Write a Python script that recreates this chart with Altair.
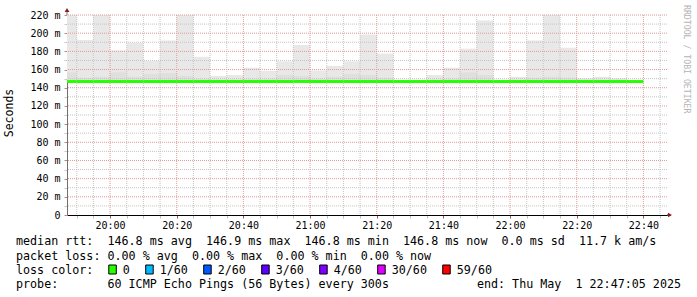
import altair as alt
import pandas as pd

# ---------------- data ----------------
start_time = "19:47:05"
end_time = "22:47:05"

bin_start = ["19:45", "19:50", "19:55", "20:00", "20:05", "20:10", "20:15", "20:20", "20:25",
             "20:30", "20:35", "20:40", "20:45", "20:50", "20:55", "21:00", "21:05", "21:10",
             "21:15", "21:20", "21:25", "21:30", "21:35", "21:40", "21:45", "21:50", "21:55",
             "22:00", "22:05", "22:10", "22:15", "22:20", "22:25", "22:30", "22:35"]
# smoke (ms): top of the ping spread, top of the denser lower band, bottom of the spread
smoke_max = [222, 192.5, 222, 181, 189.5, 169.5, 192, 222, 174, 153,
             154, 162, 158.5, 169, 187, 159, 164, 169, 198.5, 177.5,
             None, None, 154, 162, 183, 214, None, 152, 192, 222,
             184, 150.5, 152, 150.5, None]
smoke_dense = [157, 151, 152, 157, 152, 155, 156, 153, 150, 149,
               149, 150, 150, 154, 153, 150, 152, 155, 154, 151,
               None, None, 149, 150, 157, 154, None, 149, 151, 152,
               151, 149, 149, 149, None]
smoke_min = [146.3, 146.3, 146.3, 146.3, 146.3, 146.3, 146.3, 146.3, 146.3, 146.3,
             146.3, 146.3, 146.3, 146.3, 146.3, 146.3, 146.3, 146.3, 146.3, 146.3,
             146.3, 146.3, 146.3, 146.3, 146.3, 146.3, 146.3, 146.3, 146.3, 146.3,
             146.3, 146.3, 146.3, 146.3, 146.3]
median_rtt = [146.8, 146.8, 146.8, 146.8, 146.8, 146.8, 146.8, 146.8, 146.8, 146.8,
              146.8, 146.8, 146.8, 146.8, 146.9, 146.8, 146.8, 146.8, 146.8, 146.8,
              146.8, 146.8, 146.8, 146.8, 146.8, 146.8, 146.8, 146.8, 146.8, 146.8,
              146.8, 146.8, 146.8, 146.8, 146.8]

loss_labels = ["0", "1/60", "2/60", "3/60", "4/60", "30/60", "59/60"]
loss_colors = ["#26ff00", "#00b8ff", "#0059ff", "#5e00ff", "#7e00ff", "#dd00ff", "#ff0000"]

line_rtt = "median rtt:  146.8 ms avg  146.9 ms max  146.8 ms min  146.8 ms now  0.0 ms sd  11.7 k am/s"
line_loss = "packet loss: 0.00 % avg  0.00 % max  0.00 % min  0.00 % now"
line_color = "loss color:"
line_probe = "probe:       60 ICMP Echo Pings (56 Bytes) every 300s"
line_end = "end: Thu May  1 22:47:05 2025"
y_title = "Seconds"
watermark = "RRDTOOL / TOBI OETIKER"

# ---------------- helpers ----------------
def to_min(s):
    parts = [int(p) for p in s.split(":")]
    m = parts[0] * 60 + parts[1]
    if len(parts) > 2:
        m += parts[2] / 60.0
    return m

t0 = to_min(start_time)
t1 = to_min(end_time)
STEP = 5

rows = []
for s, hi, dn, lo, md in zip(bin_start, smoke_max, smoke_dense, smoke_min, median_rtt):
    a = max(to_min(s), t0)
    b = to_min(s) + STEP
    rows.append(dict(x0=a, x1=b, hi=hi, dense=dn, lo=lo, med=md))
df = pd.DataFrame(rows)
df_smoke = df.dropna(subset=["hi"])

x_ticks = list(range(1190, 1366, 5))
y_ticks = list(range(0, 221, 10))
df_gx = pd.DataFrame({"v": x_ticks})
df_gy = pd.DataFrame({"v": y_ticks})
df_gx["major"] = df_gx["v"] % 20 == 0
df_gy["major"] = df_gy["v"] % 20 == 0

MONO = "DejaVu Sans Mono"
NB = "\u00a0"

x_axis = alt.Axis(
    values=x_ticks, grid=False, title=None,
    labelExpr="datum.value % 20 == 0 ? (floor(datum.value/60) + ':' + (datum.value % 60 < 10 ? '0' : '') + (datum.value % 60)) : ''",
    labelFont=MONO, labelFontSize=10, labelColor="black", labelPadding=2,
    labelFlush=False, labelOverlap=False,
    domainColor="black", domainWidth=1,
    tickSize=3, tickColor={"condition": {"test": "datum.value % 20 == 0", "value": "#b05050"}, "value": "#c0c0c0"},
)
y_axis = alt.Axis(
    values=y_ticks, grid=False, title=None,
    labelExpr="datum.value % 20 == 0 ? (datum.value == 0 ? '0" + NB + NB + "' : datum.value + '" + NB + "m') : ''",
    labelFont=MONO, labelFontSize=10, labelColor="black", labelPadding=4,
    labelOverlap=False, labelFlush=False,
    domainColor="#707070", domainWidth=1,
    tickSize=3, tickColor={"condition": {"test": "datum.value % 20 == 0", "value": "#d08080"}, "value": "#c8c8c8"},
)

def X(field):
    return alt.X(field, type="quantitative", scale=alt.Scale(domain=[t0, t1], nice=False, zero=False), axis=x_axis)

def Y(field):
    return alt.Y(field, type="quantitative", scale=alt.Scale(domain=[0, 220], nice=False, zero=True), axis=y_axis)

smoke_light = alt.Chart(df_smoke).mark_rect(color="#e8e8e8", clip=True).encode(
    x=X("x0"), x2="x1", y=Y("lo"), y2="hi")
smoke_dark = alt.Chart(df_smoke).mark_rect(color="#dfdfdf", clip=True).encode(
    x=X("x0"), x2="x1", y=Y("lo"), y2="dense")

grid_x_minor = alt.Chart(df_gx[~df_gx["major"]]).mark_rule(color="#c4c4c4", strokeDash=[1, 1], strokeWidth=1).encode(x=X("v"))
grid_x_major = alt.Chart(df_gx[df_gx["major"]]).mark_rule(color="#e09a9a", strokeDash=[1, 1], strokeWidth=1).encode(x=X("v"))
grid_y_minor = alt.Chart(df_gy[~df_gy["major"]]).mark_rule(color="#c4c4c4", strokeDash=[1, 1], strokeWidth=1).encode(y=Y("v"))
grid_y_major = alt.Chart(df_gy[df_gy["major"] & (df_gy["v"] > 0)]).mark_rule(color="#e09a9a", strokeDash=[1, 1], strokeWidth=1).encode(y=Y("v"))

median = alt.Chart(df).mark_rule(color="#26ff00", strokeWidth=3, strokeCap="butt").encode(
    x=X("x0"), x2="x1", y=Y("med"))

# axis extensions + arrows
y_ext = alt.Chart(df.head(1)).mark_rule(color="#707070").encode(
    x=alt.value(0), y=alt.value(-5), y2=alt.value(0))
x_ext = alt.Chart(df.head(1)).mark_rule(color="black").encode(
    x=alt.value(600), x2=alt.value(603), y=alt.value(200))
arrow_up = alt.Chart(df.head(1)).mark_point(shape="triangle-up", filled=True, color="#8b1a1a", size=22, opacity=1).encode(
    x=alt.value(0), y=alt.value(-5))
arrow_right = alt.Chart(df.head(1)).mark_point(shape="triangle-right", filled=True, color="#8b1a1a", size=22, opacity=1).encode(
    x=alt.value(603), y=alt.value(200))

def text_layer(s, x, y, align="left", size=11.7, color="black", angle=0, font=MONO):
    return alt.Chart(pd.DataFrame({"t": [s.replace(" ", NB)]})).mark_text(
        align=align, baseline="middle", font=font, fontSize=size, color=color, angle=angle
    ).encode(x=alt.value(x), y=alt.value(y), text="t:N")

LX = 16 - 67
CW = 7.03
texts = [
    text_layer(line_rtt, LX, 226),
    text_layer(line_loss, LX, 240.5),
    text_layer(line_color, LX, 254.5),
    text_layer(line_probe, LX, 269),
    text_layer(line_end, 681 - 67, 269, align="right"),
    text_layer(y_title, -57, 98, align="center", size=11.5, angle=270),
    text_layer(watermark, 686 - 67, -10, align="left", size=8.2, color="#b4b4b4", angle=90),
]

legend_layers = []
pos = 13.2
for lab, col in zip(loss_labels, loss_colors):
    bx = LX + pos * CW
    legend_layers.append(
        alt.Chart(df.head(1)).mark_rect(color=col, stroke="black", strokeWidth=1).encode(
            x=alt.value(bx), x2=alt.value(bx + 7.5), y=alt.value(250), y2=alt.value(259))
    )
    tpos = pos + 2.0
    legend_layers.append(text_layer(lab, LX + tpos * CW, 254.5))
    pos = tpos + len(lab) + 2.25

chart = alt.layer(
    smoke_light, smoke_dark,
    grid_x_minor, grid_y_minor, grid_x_major, grid_y_major,
    median, y_ext, x_ext, arrow_up, arrow_right,
    *texts, *legend_layers,
).properties(
    width=600, height=200,
    padding={"left": 67, "top": 15, "right": 30, "bottom": 82},
    autosize=alt.AutoSizeParams(type="none"),
    background="white",
).configure_view(stroke=None)

chart.save("out.html", embed_options={"renderer": "svg", "actions": False})
